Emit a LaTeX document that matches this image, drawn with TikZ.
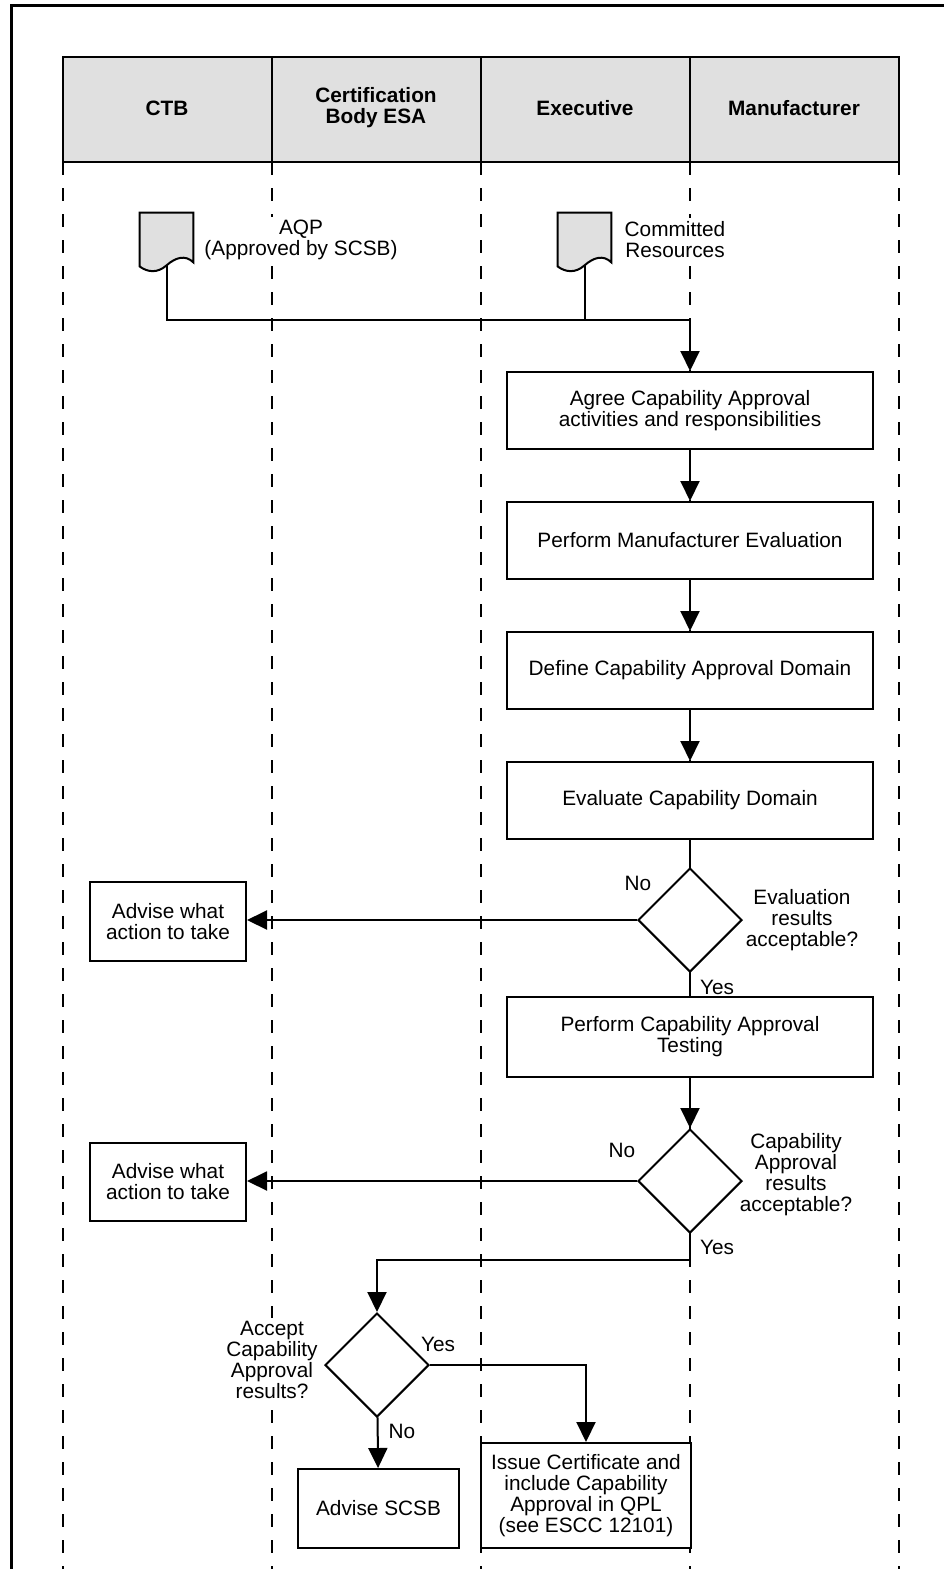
\documentclass[tikz,border=0pt]{standalone}
\usepackage{fontspec}
\setmainfont{Liberation Sans}
\usetikzlibrary{shapes.geometric, arrows.meta, positioning, calc}
\definecolor{hdgray}{HTML}{E0E0E0}
\definecolor{docgray}{HTML}{E0E0E0}

\begin{document}
\begin{tikzpicture}[
    x=0.5pt, y=-0.5pt,
    font=\fontsize{10.4}{10.5}\selectfont,
    box/.style={rectangle, draw=black, line width=1pt, fill=white, minimum width=#1, minimum height=38.5pt, align=center, inner sep=2pt},
    box/.default=183pt,
    decision/.style={diamond, draw=black, line width=1pt, fill=white, minimum width=52pt, minimum height=52pt, inner sep=0pt},
    doc/.style={rectangle, minimum width=26.5pt, minimum height=26pt, inner sep=0pt},
    lbl/.style={align=center, inner sep=0pt},
    note/.style={lbl, fill=white, inner sep=1.5pt},
    lane/.style={line width=1pt, dash pattern=on 6.5pt off 6.5pt},
    link/.style={line width=1pt},
    arrow/.style={line width=1pt, -{Triangle[length=10pt, width=9.5pt]}}
]
\useasboundingbox (0,0) rectangle (944,1569);

% frame and swimlane header
\draw[line width=1.5pt] (11,1569) -- (11,5) -- (944,5);
\draw[line width=1.3pt, fill=hdgray] (63,57) rectangle (899,162);
\foreach \x in {272,481,690}
    \draw[line width=1pt] (\x,57) -- (\x,162);
\foreach \x in {63,272,481,690,899}
    \draw[lane] (\x,162) -- (\x,1569);
\foreach \name/\x/\txt in {hctb/167/CTB, hcert/376/{Certification\\Body ESA}, hexec/585/Executive, hmfr/794/Manufacturer}
    \node[lbl, font=\fontsize{10.4}{10.5}\selectfont\bfseries] (\name) at (\x,108) {\txt};

% input documents
\node[doc] (aqp) at (166.5,239) {};
\node[doc] (res) at (584.5,239) {};
\foreach \d in {aqp,res}
    \draw[link, fill=docgray] (\d.south west) -- (\d.north west) -- (\d.north east) -- ($(\d.south east)+(0,-3)$)
        .. controls +(-8,-8) and +(9,-8) .. (\d.south)
        .. controls +(-9,8) and +(8,6) .. ($(\d.south west)+(0,1)$) -- cycle;
\node[note] (aqptxt) at (301,239.5) {AQP\\(Approved by SCSB)};
\node[note] (restxt) at (675,239.5) {Committed\\Resources};

% main flow
\node[box] (agree) at (690,410.5) {Agree Capability Approval\\activities and responsibilities};
\node[box] (perfeval) at (690,540.5) {Perform Manufacturer Evaluation};
\node[box] (define) at (690,670.5) {Define Capability Approval Domain};
\node[box] (evaldom) at (690,800.5) {Evaluate Capability Domain};
\node[decision] (okeval) at (690,920) {};
\node[box=78pt, minimum height=39.5pt] (advise1) at (168,921.5) {Advise what\\action to take};
\node[box, minimum height=40pt] (testing) at (690,1037) {Perform Capability Approval\\Testing};
\node[decision] (okcap) at (690,1181) {};
\node[box=78pt, minimum height=39pt] (advise2) at (168,1182) {Advise what\\action to take};
\node[decision] (accept) at (377,1365) {};
\node[box=80.5pt, minimum height=39.5pt] (scsb) at (378.5,1508.5) {Advise SCSB};
\node[box=105pt, minimum height=52.5pt] (issue) at (586,1495.5) {Issue Certificate and\\include Capability\\Approval in QPL\\(see ESCC 12101)};

% decision labels
\node[lbl] (no1) at (638,883) {No};
\node[lbl] (q1) at (802,920.5) {Evaluation\\results\\acceptable?};
\node[lbl] (yes1) at (717,987) {Yes};
\node[lbl] (no2) at (622,1150) {No};
\node[lbl] (q2) at (796,1175) {Capability\\Approval\\results\\acceptable?};
\node[lbl] (yes2) at (717,1247) {Yes};
\node[note] (q3) at (272,1360) {Accept\\Capability\\Approval\\results?};
\node[lbl] (yes3) at (438,1344) {Yes};
\node[lbl] (no3) at (402,1431) {No};

% connectors
\coordinate (merge) at (690,320);
\coordinate (bend) at (690,1260);
\draw[arrow] (aqp.south) |- (merge) -- (agree);
\draw[link] (res.south) -- (res.south |- merge);
\draw[arrow] (agree) -- (perfeval);
\draw[arrow] (perfeval) -- (define);
\draw[arrow] (define) -- (evaldom);
\draw[link] (evaldom) -- (okeval);
\draw[arrow] (okeval.west) -- (okeval.west -| advise1.east);
\draw[link] (okeval) -- (testing);
\draw[arrow] (testing) -- (okcap);
\draw[arrow] (okcap.west) -- (okcap.west -| advise2.east);
\draw[arrow] (okcap) -- (bend) -| (accept);
\draw[arrow] (accept) -| (issue);
\draw[arrow] (accept) -- (scsb);

\end{tikzpicture}
\end{document}
